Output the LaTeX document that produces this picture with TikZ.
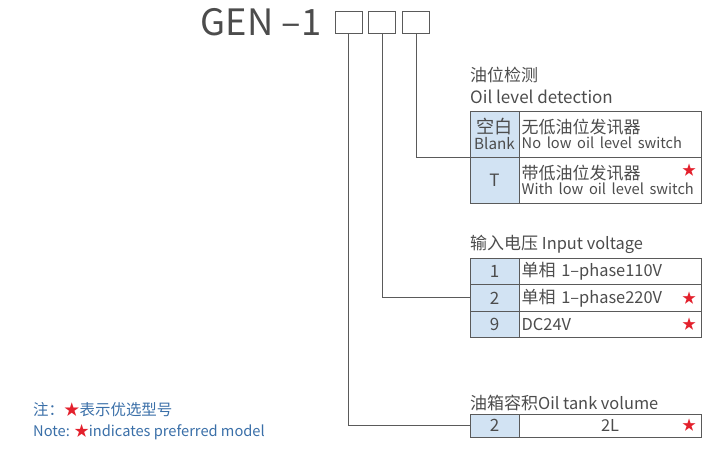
\documentclass[tikz,border=0pt]{standalone}
\usepackage{fontspec}
\setmainfont{Noto Sans CJK SC}
\usepackage{xcolor}
\usepackage{tikz}
\usetikzlibrary{positioning}
\definecolor{gnline}{HTML}{5A5A5A}
\definecolor{gntext}{HTML}{4C4C4C}
\definecolor{gnblue}{HTML}{D2E3F3}
\definecolor{gnred}{HTML}{E3202C}
\definecolor{gnnote}{HTML}{3A6FA8}
\newcommand{\cnsz}{\fontsize{14.5}{16}\selectfont}
\newcommand{\ensz}{\fontsize{12.5}{15}\selectfont}
\newcommand{\tbsz}{\fontsize{14}{16}\selectfont}

\begin{document}
\begin{tikzpicture}[
  x=0.03cm, y=-0.03cm,
  slot/.style={
    rectangle, draw=gnline, line width=0.6pt,
    minimum width=0.81cm, minimum height=0.66cm, inner sep=0pt
  },
  keycell/.style={
    rectangle, draw=gnline, fill=gnblue, line width=0.6pt,
    minimum width=1.47cm, inner sep=0pt, outer sep=0pt,
    align=center, text=gntext, font=\cnsz
  },
  desccell/.style={
    rectangle, draw=gnline, line width=0.6pt,
    text width=5.3cm, inner xsep=0.08cm, inner ysep=0pt, outer sep=0pt,
    align=left, text=gntext, font=\cnsz
  },
  heading/.style={inner sep=0pt, text=gntext, font=\cnsz},
  redstar/.style={inner sep=0pt, text=gnred, font=\fontsize{12}{12}\selectfont},
  link/.style={draw=gnline, line width=0.6pt},
]
\useasboundingbox (0,0) rectangle (713,448);

% Model code
\node[text=gntext, font=\fontsize{31}{32}\selectfont] (model) at (261,22) {GEN\ --1};
\node[slot] (box1) at (348.5,22) {};
\node[slot, right=0.18cm of box1] (box2) {};
\node[slot, right=0.18cm of box2] (box3) {};

% Oil level detection
\node[keycell, minimum height=1.38cm] (blank) at (494.5,134)
  {\fontsize{15.5}{17}\selectfont 空白\\[-3pt]{\fontsize{13}{15}\selectfont Blank}};
\node[desccell, minimum height=1.38cm, right=0pt of blank] (blankd)
  {无低油位发讯器\\[-3pt]{\ensz No low oil level switch}};
\node[keycell, minimum height=1.38cm, below=0pt of blank] (tee) {T};
\node[desccell, minimum height=1.38cm, right=0pt of tee] (teed)
  {带低油位发讯器\\[-3pt]{\ensz With low oil level switch}};
\node[redstar, left=0.14cm of teed.east, yshift=0.3cm] (star1) {★};
\node[heading, align=left, above=0.2cm of blank.north west, anchor=south west] (oiltitle)
  {油位检测\\[3pt]Oil level detection};

% Input voltage
\node[keycell, minimum height=0.79cm] (v1) at (494.5,271.5) {1};
\node[desccell, minimum height=0.79cm, right=0pt of v1] (v1d) {单相 {\tbsz 1--phase110V}};
\node[keycell, minimum height=0.79cm, below=0pt of v1] (v2) {2};
\node[desccell, minimum height=0.79cm, right=0pt of v2] (v2d) {单相 {\tbsz 1--phase220V}};
\node[keycell, minimum height=0.79cm, below=0pt of v2] (v9) {9};
\node[desccell, minimum height=0.79cm, right=0pt of v9] (v9d) {{\tbsz DC24V}};
\node[redstar, left=0.14cm of v2d.east] (star2) {★};
\node[redstar, left=0.14cm of v9d.east] (star3) {★};
\node[heading, above=0.15cm of v1.north west, anchor=south west] (volttitle)
  {输入电压 {\tbsz Input voltage}};

% Oil tank volume
\node[keycell, minimum height=0.69cm] (tank) at (494.5,425.5) {2};
\node[desccell, minimum height=0.69cm, right=0pt of tank, align=center] (tankd) {{\tbsz 2L}};
\node[redstar, left=0.14cm of tankd.east] (star4) {★};
\node[heading, above=0.1cm of tank.north west, anchor=south west] (tanktitle)
  {油箱容积{\tbsz Oil tank volume}};

% Connectors
\draw[link] (box3.south) |- (blank.south west);
\draw[link] (box2.south) |- (v2.west);
\draw[link] (box1.south) |- (tank.west);

% Note
\node[heading, text=gnnote, anchor=west, font=\fontsize{13.2}{14}\selectfont] (notecn) at (33,410)
  {注：{\color{gnred}★}表示优选型号};
\node[heading, text=gnnote, anchor=west, font=\fontsize{12.5}{14}\selectfont] (noteen) at (33,432)
  {Note: {\color{gnred}★}indicates preferred model};
\end{tikzpicture}
\end{document}
